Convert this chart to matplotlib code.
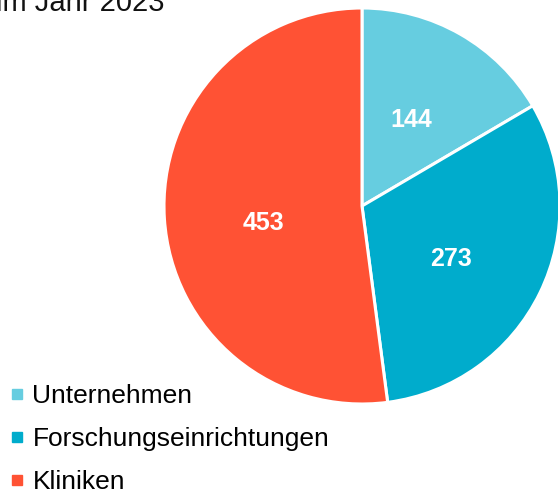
import matplotlib.pyplot as plt
from matplotlib.lines import Line2D

plt.rcParams["font.family"] = ["Liberation Sans", "DejaVu Sans"]

categories = ["Unternehmen", "Forschungseinrichtungen", "Kliniken"]
values = [144, 273, 453]
colors = ["#66CDE0", "#00ACCC", "#FF5234"]
title_text = "im Jahr 2023"

W, H = 558, 495
fig = plt.figure(figsize=(W / 100, H / 100), dpi=100)

# pie centre ~(362, 206) px, radius ~198 px
cx, cy, r = 362, 206, 198
ax = fig.add_axes([(cx - r) / W, (H - cy - r) / H, 2 * r / W, 2 * r / H])
wedges, texts = ax.pie(
    values,
    colors=colors,
    startangle=90,
    counterclock=False,
    labels=[str(v) for v in values],
    labeldistance=0.5,
    wedgeprops=dict(edgecolor="white", linewidth=2.2),
    textprops=dict(color="white", fontsize=18, fontweight="bold"),
)
# small nudges so labels sit where the original has them
nudge_y = [0.0, -0.05, -0.055]
for t, dy in zip(texts, nudge_y):
    x, y = t.get_position()
    t.set_position((x, y + dy))
    t.set_ha("center")
    t.set_va("center")
ax.set_xlim(-1, 1)
ax.set_ylim(-1, 1)
ax.set_aspect("equal")
ax.axis("off")

fig.text(165 / W, 1 - 11 / H, title_text, ha="right", va="baseline",
         fontsize=21, color="#111111")

handles = [Line2D([], [], marker="s", linestyle="none", markersize=7,
                  markerfacecolor=c, markeredgecolor=c) for c in colors]
fig.legend(handles, categories, loc="lower left",
           bbox_to_anchor=(0.006, -0.012), frameon=False, fontsize=19,
           handlelength=0.55, handletextpad=0.3, labelspacing=0.72,
           borderaxespad=0.0, borderpad=0.25)

fig.savefig("out.png", dpi=100)
